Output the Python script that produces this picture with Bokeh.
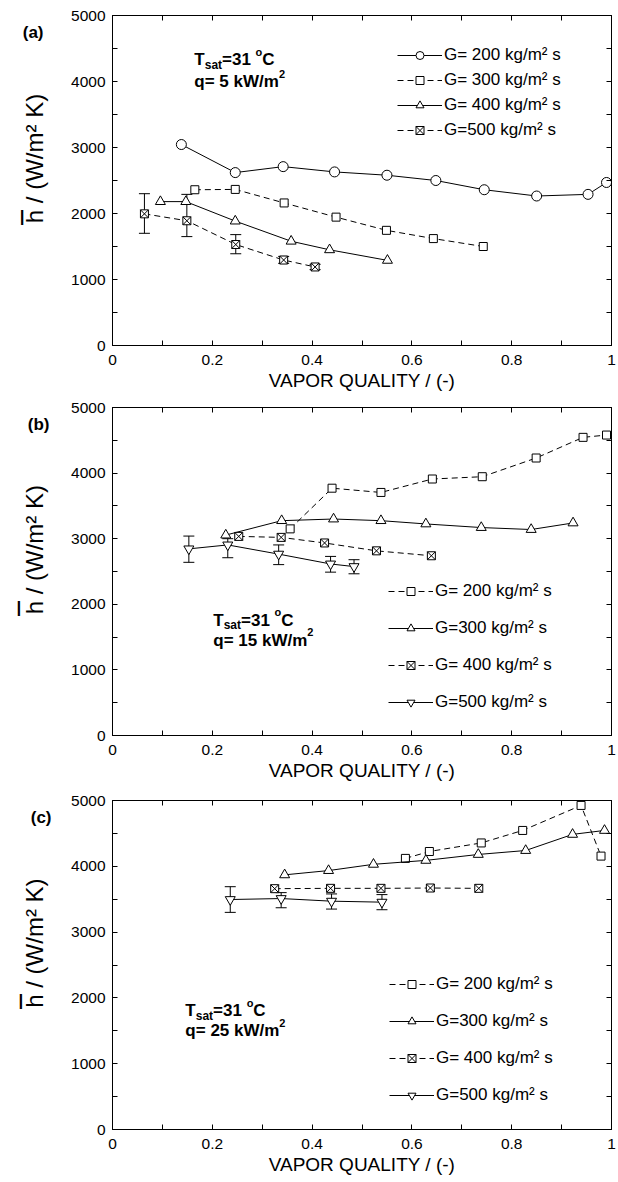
import json
from bokeh.plotting import figure
from bokeh.layouts import column
from bokeh.models import (FixedTicker, LinearAxis, CustomJSTickFormatter, Legend, LegendItem,
                          Label, Whisker, TeeHead, ColumnDataSource, Range1d)
from bokeh.embed import file_html
from bokeh.resources import INLINE

FONT = "Liberation Sans"

# ---------------- data ----------------
# panel (a): q = 5 kW/m2
a_x200 = [0.138, 0.246, 0.342, 0.445, 0.550, 0.648, 0.745, 0.850, 0.953, 0.990]
a_y200 = [3045, 2620, 2710, 2630, 2580, 2500, 2360, 2265, 2290, 2470]
a_x300 = [0.165, 0.246, 0.344, 0.448, 0.549, 0.643, 0.743]
a_y300 = [2360, 2365, 2160, 1945, 1745, 1620, 1500]
a_x400 = [0.096, 0.147, 0.246, 0.358, 0.435, 0.551]
a_y400 = [2180, 2180, 1885, 1580, 1450, 1290]
a_x500 = [0.064, 0.149, 0.247, 0.343, 0.406]
a_y500 = [1995, 1890, 1530, 1295, 1190]
a_lo500 = [1700, 1650, 1390, 1245, 1150]
a_hi500 = [2300, 2290, 1680, 1350, 1230]

# panel (b): q = 15 kW/m2
b_x200 = [0.356, 0.440, 0.538, 0.641, 0.741, 0.849, 0.943, 0.990]
b_y200 = [3150, 3770, 3705, 3910, 3945, 4230, 4545, 4580]
b_x300 = [0.227, 0.339, 0.443, 0.538, 0.628, 0.739, 0.839, 0.923]
b_y300 = [3055, 3275, 3300, 3275, 3225, 3170, 3140, 3240]
b_x400 = [0.253, 0.338, 0.425, 0.529, 0.639]
b_y400 = [3035, 3020, 2935, 2815, 2740]
b_x500 = [0.153, 0.231, 0.333, 0.437, 0.484]
b_y500 = [2845, 2905, 2765, 2615, 2575]
b_lo500 = [2640, 2710, 2605, 2490, 2465]
b_hi500 = [3040, 3000, 2905, 2730, 2680]

# panel (c): q = 25 kW/m2
c_x200 = [0.587, 0.635, 0.739, 0.822, 0.939, 0.979]
c_y200 = [4120, 4225, 4355, 4545, 4925, 4155]
c_x300 = [0.345, 0.433, 0.523, 0.628, 0.733, 0.828, 0.922, 0.986]
c_y300 = [3870, 3935, 4030, 4090, 4180, 4240, 4485, 4545]
c_x400 = [0.325, 0.437, 0.538, 0.637, 0.734]
c_y400 = [3660, 3665, 3665, 3670, 3665]
c_x500 = [0.236, 0.338, 0.439, 0.540]
c_y500 = [3495, 3510, 3470, 3455]
c_lo500 = [3300, 3370, 3350, 3340]
c_hi500 = [3690, 3600, 3580, 3570]

x_ticks = [0, 0.2, 0.4, 0.6, 0.8, 1.0]
x_minor = [0.1, 0.3, 0.5, 0.7, 0.9]
y_ticks = [0, 1000, 2000, 3000, 4000, 5000]
y_minor = [500, 1500, 2500, 3500, 4500]

X_TITLE = "VAPOR QUALITY / (-)"
Y_TITLE = "h / (W/m\u00b2 K)"
Y_TITLE_AT = 2833                    # y value on which the y title is centred
Y_BAR_AT = 1955                      # y value of the bar over the h of the y title
TAG_AT = 4740

BOLD_W = {'T': 611, 's': 556, 'a': 556, 't': 333, '=': 584, '3': 556, '1': 556, ' ': 278,
          'o': 611, 'C': 722, 'q': 611, '5': 556, 'k': 556, 'W': 944, '/': 278, 'm': 889,
          '2': 556, '(': 333, ')': 333, 'b': 611, 'c': 556}


def rich(p, x, y, segs):
    off = 0.0
    for t, s, dy in segs:
        p.add_layout(Label(x=x, y=y, x_offset=off, y_offset=dy, text=t, text_font=FONT,
                           text_font_style="bold", text_font_size=f"{s}px",
                           text_baseline="alphabetic", text_align="left", text_color="black"))
        off += sum(BOLD_W.get(c, 600) for c in t) / 1000.0 * s


def style_axis(ax, labels=True):
    ax.axis_line_color = "black"
    ax.axis_line_width = 1
    ax.major_tick_in = 5
    ax.major_tick_out = 0
    ax.minor_tick_in = 5
    ax.minor_tick_out = 0
    ax.major_tick_line_color = "black"
    ax.minor_tick_line_color = "black"
    ax.major_label_text_font = FONT
    ax.major_label_text_font_size = "15.5px"
    ax.major_label_text_color = "black"
    if not labels:
        ax.formatter = CustomJSTickFormatter(code="return '';")
        ax.major_label_standoff = 0


def text_axis(ticks, labels, size, bold, orientation, standoff):
    code = "const t = %s; const l = %s; for (let i = 0; i < t.length; i++) { if (Math.abs(tick - t[i]) < 1) return l[i]; } return '';" % (
        json.dumps(ticks), json.dumps(labels))
    ax = LinearAxis(ticker=FixedTicker(ticks=ticks, minor_ticks=[]),
                    formatter=CustomJSTickFormatter(code=code))
    ax.axis_line_color = None
    ax.major_tick_line_color = None
    ax.minor_tick_line_color = None
    ax.major_tick_in = 0
    ax.major_tick_out = 0
    ax.minor_tick_in = 0
    ax.minor_tick_out = 0
    ax.major_label_text_font = FONT
    ax.major_label_text_font_size = size
    ax.major_label_text_font_style = "bold" if bold else "normal"
    ax.major_label_text_color = "black"
    ax.major_label_orientation = orientation
    ax.major_label_standoff = standoff
    return ax


def make_panel(series, err, legend_labels, legend_loc, legend_spacing, tag, tag_standoff, bar_pad,
               ann_x, ann_y1, ann_y2, q_text, top_border, frame_h):
    p = figure(frame_width=499, frame_height=frame_h, x_range=Range1d(0, 1), y_range=Range1d(0, 5000),
               x_axis_type=None, y_axis_type=None, output_backend="svg", toolbar_location=None,
               min_border_left=112, min_border_right=5, min_border_top=top_border,
               min_border_bottom=0)
    p.outline_line_color = "black"
    p.outline_line_width = 1
    p.background_fill_color = "white"
    p.border_fill_color = "white"

    xt = FixedTicker(ticks=x_ticks, minor_ticks=x_minor)
    yt = FixedTicker(ticks=y_ticks, minor_ticks=y_minor)

    bx = LinearAxis(ticker=xt, formatter=CustomJSTickFormatter(
        code="return (Math.abs(tick - Math.round(tick)) < 1e-9) ? tick.toFixed(0) : tick.toFixed(1);"))
    style_axis(bx)
    bx.major_label_standoff = 9
    bx.axis_label = X_TITLE
    bx.axis_label_text_font = FONT
    bx.axis_label_text_font_size = "19px"
    bx.axis_label_text_font_style = "normal"
    bx.axis_label_text_color = "black"
    bx.axis_label_standoff = 2
    p.add_layout(bx, "below")

    ly = LinearAxis(ticker=yt)
    style_axis(ly)
    ly.major_label_standoff = 7
    p.add_layout(ly, "left")

    # y title (rotated) and, further out, the panel tag and the bar over the h
    p.add_layout(text_axis([Y_TITLE_AT], [Y_TITLE], "24px", False, "vertical", 20), "left")
    bar = "|" + "\u00a0" * bar_pad
    p.add_layout(text_axis([TAG_AT, Y_BAR_AT], [tag, bar], "17px", True, "horizontal", tag_standoff), "left")

    tx = LinearAxis(ticker=xt)
    style_axis(tx, labels=False)
    p.add_layout(tx, "above")
    ry = LinearAxis(ticker=yt)
    style_axis(ry, labels=False)
    p.add_layout(ry, "right")

    # error bars (under the markers)
    ex, ey, elo, ehi = err
    src = ColumnDataSource(dict(x=ex, lo=elo, hi=ehi))
    w = Whisker(base="x", lower="lo", upper="hi", source=src, dimension="height",
                line_color="black", line_width=1, level="underlay",
                lower_head=TeeHead(size=11, line_color="black", line_width=1),
                upper_head=TeeHead(size=11, line_color="black", line_width=1))
    p.add_layout(w)

    items = []
    for (xs, ys, marker, size, dash), lab in zip(series, legend_labels):
        lr = p.line(xs, ys, line_color="black", line_width=1, line_dash=dash)
        sr = p.scatter(xs, ys, marker=marker, size=size, fill_color="white",
                       line_color="black", line_width=1)
        items.append(LegendItem(label=lab, renderers=[lr, sr]))

    leg = Legend(items=items, location=legend_loc, glyph_width=45, glyph_height=20,
                 label_height=20, spacing=legend_spacing, padding=0, margin=0,
                 border_line_alpha=0, background_fill_alpha=0, label_standoff=2,
                 label_text_font=FONT, label_text_font_size="17px", label_text_color="black")
    p.add_layout(leg)

    rich(p, ann_x, ann_y1, [("T", 17, 0), ("sat", 12, -5), ("=31 ", 17, 0), ("o", 11, 8), ("C", 17, 0)])
    rich(p, ann_x, ann_y2, [(q_text, 17, 0), ("2", 11, 8)])
    return p


pa = make_panel(
    [(a_x200, a_y200, "circle", 10, "solid"),
     (a_x300, a_y300, "square", 8, "6 4"),
     (a_x400, a_y400, "triangle", 10, "solid"),
     (a_x500, a_y500, "square_x", 8, "6 4")],
    (a_x500, a_y500, a_lo500, a_hi500),
    ["G= 200 kg/m\u00b2 s", "G= 300 kg/m\u00b2 s", "G= 400 kg/m\u00b2 s", "G=500 kg/m\u00b2 s"],
    (285, 205), 5, "(a)", -25, 4, 0.164, 4330, 3995, "q= 5 kW/m", 15, 330)

pb = make_panel(
    [(b_x200, b_y200, "square", 8, "6 4"),
     (b_x300, b_y300, "triangle", 10, "solid"),
     (b_x400, b_y400, "square_x", 8, "6 4"),
     (b_x500, b_y500, "inverted_triangle", 10, "solid")],
    (b_x500, b_y500, b_lo500, b_hi500),
    ["G= 200 kg/m\u00b2 s", "G=300 kg/m\u00b2 s", "G= 400 kg/m\u00b2 s", "G=500 kg/m\u00b2 s"],
    (276, 23), 17, "(b)", -31, 6, 0.202, 1755, 1450, "q= 15 kW/m", 14, 328)

pc = make_panel(
    [(c_x200, c_y200, "square", 8, "6 4"),
     (c_x300, c_y300, "triangle", 10, "solid"),
     (c_x400, c_y400, "square_x", 8, "6 4"),
     (c_x500, c_y500, "inverted_triangle", 10, "solid")],
    (c_x500, c_y500, c_lo500, c_hi500),
    ["G= 200 kg/m\u00b2 s", "G=300 kg/m\u00b2 s", "G= 400 kg/m\u00b2 s", "G=500 kg/m\u00b2 s"],
    (277, 24), 17, "(c)", -33, 6, 0.146, 1808, 1504, "q= 25 kW/m", 17, 329)

layout = column(pa, pb, pc, spacing=0)
open("out.html", "w").write(file_html(layout, INLINE))
